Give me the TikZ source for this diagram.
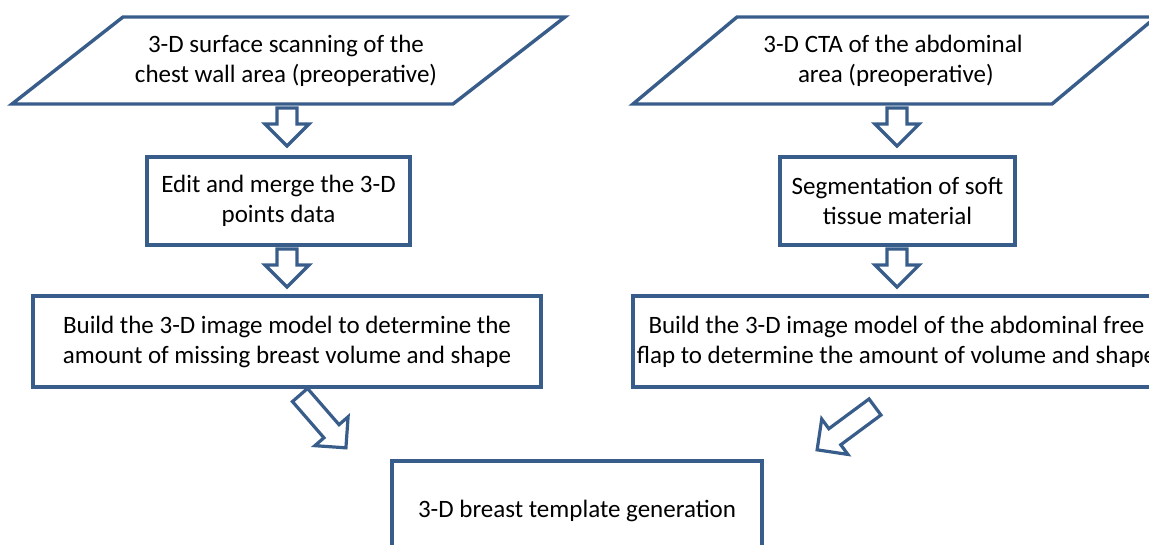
\documentclass[tikz,border=0pt]{standalone}
\usepackage{fontspec}
\setmainfont{Carlito}
\definecolor{edge}{RGB}{56,93,138}
\newcommand\blockarr[3]{%
  \begin{scope}[shift={(#1)}, rotate=#2]
    \draw[barrow] (0,-10) -- ({#3-22},-10) -- ({#3-22},-22) -- (#3,0) -- ({#3-22},22) -- ({#3-22},10) -- (0,10) -- cycle;
  \end{scope}}
\begin{document}
\begin{tikzpicture}[x=1pt,y=-1pt,
  box/.style={draw=edge, line width=3.4pt, fill=white, inner sep=0pt, align=center, font=\fontsize{25}{30}\selectfont, text=black},
  para/.style={draw=edge, line width=3.4pt, fill=white, line join=miter},
  txt/.style={align=center, inner sep=0pt, font=\fontsize{25}{30}\selectfont, text=black},
  barrow/.style={draw=edge, line width=3.2pt, fill=white, line join=miter}]
\useasboundingbox (0,0) rectangle (1149,544);
\clip (0,0) rectangle (1149,544);
% input parallelograms
\draw[para] (123,17) -- (565,17) -- (453,104) -- (12,104) -- cycle;
\node[txt] (inL) at (286,61) {3-D surface scanning of the\\chest wall area (preoperative)};
\draw[para] (737,17) -- (1156,17) -- (1052,104) -- (633,104) -- cycle;
\node[txt] (inR) at (893,61) {3-D CTA of the abdominal\\\ area (preoperative)};
% process boxes
\node[box, minimum width=263, minimum height=88] (editL) at (278.5,201) {Edit and merge the 3-D\\points data};
\node[box, minimum width=508, minimum height=91] (buildL) at (287,341.5) {Build the 3-D image model to determine the\\amount of missing breast volume and shape};
\node[box, minimum width=235, minimum height=88] (segR) at (897.5,201) {Segmentation of soft\\tissue material};
\node[box, minimum width=527, minimum height=91] (buildR) at (896.5,341.5) {Build the 3-D image model of the abdominal free\\flap to determine the amount of volume and shape};
\node[box, minimum width=370, minimum height=99] (tmpl) at (577,510.5) {3-D breast template generation};
% block arrows
\coordinate (a1) at (287,108);
\coordinate (a2) at (287,249);
\coordinate (a3) at (897,108);
\coordinate (a4) at (897,249);
\coordinate (a5) at (300,395);
\coordinate (a6) at (875,407);
\blockarr{a1}{-90}{38}
\blockarr{a2}{-90}{38}
\blockarr{a3}{-90}{38}
\blockarr{a4}{-90}{38}
\blockarr{a5}{-49}{70}
\blockarr{a6}{-143.5}{72}
\end{tikzpicture}
\end{document}
